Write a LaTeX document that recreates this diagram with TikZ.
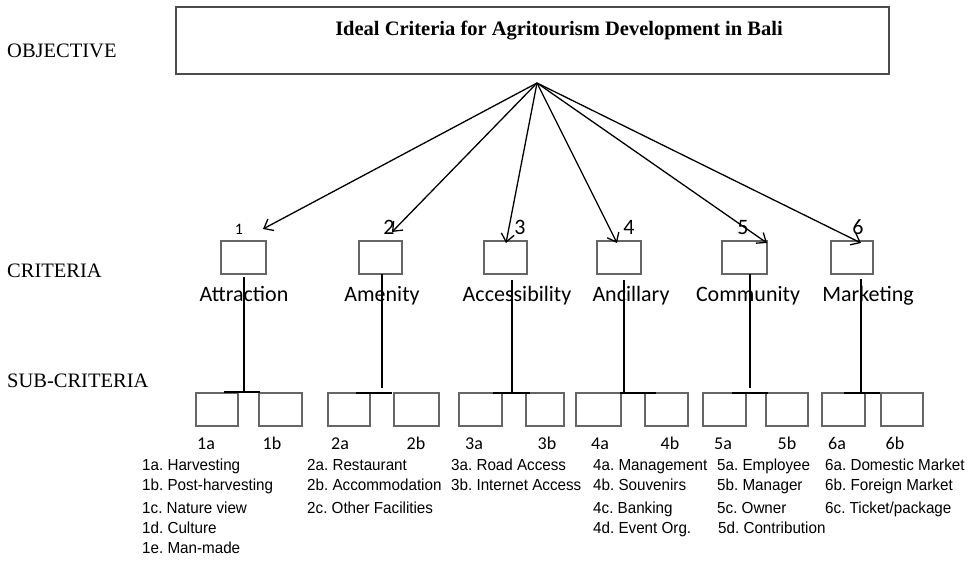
\documentclass[tikz,border=0pt]{standalone}
\usepackage{fontspec}
\setmainfont{Liberation Serif}
\newfontfamily\calfont{Carlito}
\newfontfamily\arifont[FakeStretch=0.95]{Liberation Sans}
\usetikzlibrary{arrows.meta}
\frenchspacing
\begin{document}
\begin{tikzpicture}[x=1pt,y=-1pt,
  lvl/.style={inner sep=0pt,anchor=base west,font=\fontsize{20.5}{24}\selectfont},
  ttl/.style={inner sep=0pt,anchor=base,font=\fontsize{20.5}{24}\selectfont\bfseries},
  cbox/.style={draw=black!60,line width=1.4pt,minimum width=44pt,minimum height=33pt,inner sep=0pt},
  sbox/.style={draw=black!60,line width=1.4pt,minimum width=43pt,minimum height=33pt,inner sep=0pt},
  cnum/.style={inner sep=0pt,anchor=base,font=\calfont\fontsize{22}{26}\selectfont},
  cnums/.style={inner sep=0pt,anchor=base,font=\calfont\fontsize{16}{20}\selectfont},
  cname/.style={inner sep=0pt,anchor=base,font=\calfont\fontsize{22}{26}\selectfont},
  slab/.style={inner sep=0pt,anchor=base,font=\calfont\fontsize{18}{22}\selectfont},
  lst/.style={inner sep=0pt,anchor=base west,font=\arifont\fontsize{16}{20}\selectfont},
  arr/.style={line width=1.3pt,-{Straight Barb[length=8pt,width=13pt,line width=1.3pt]}},
  ln/.style={line width=1.2pt},
  bar/.style={line width=1.6pt}]
\useasboundingbox (0,0) rectangle (972,561);
% objective
\node[draw=black!70,line width=1.4pt,minimum width=713pt,minimum height=67pt,inner sep=0pt] (obj) at (532.5,40.5) {};
\node[ttl] (title) at (559,36) {Ideal Criteria for Agritourism Development in Bali};
\node[lvl] (lobj) at (7,58) {OBJECTIVE};
\node[lvl] (lcri) at (7,278) {CRITERIA};
\node[lvl] (lsub) at (7,387) {SUB-CRITERIA};
\coordinate (apex) at (537,83);
% criteria boxes
\node[cbox,minimum width=45pt] (c1) at (243.5,257.5) {};
\node[cbox,minimum width=43pt] (c2) at (380.5,257.5) {};
\node[cbox,minimum width=43pt] (c3) at (505.5,257.5) {};
\node[cbox,minimum width=44pt] (c4) at (619,257.5) {};
\node[cbox,minimum width=45pt] (c5) at (744.5,257.5) {};
\node[cbox,minimum width=42pt] (c6) at (852,257.5) {};
% numbers
\node[cnums] (n1) at (239,235) {1};
\node[cnum] (n2) at (389,235) {2};
\node[cnum] (n3) at (520,235) {3};
\node[cnum] (n4) at (629,235) {4};
\node[cnum] (n5) at (743,235) {5};
\node[cnum] (n6) at (858,235) {6};
% names
\node[cname] (m1) at (244,302) {Attraction};
\node[cname] (m2) at (382,302) {Amenity};
\node[cname] (m3) at (517,302) {Accessibility};
\node[cname] (m4) at (631,302) {Ancillary};
\node[cname] (m5) at (748,302) {Community};
\node[cname] (m6) at (868,302) {Marketing};
% arrow tips
\coordinate (t1) at (263,229);
\coordinate (t2) at (392,232);
\coordinate (t3) at (506,243);
\coordinate (t4) at (617,243);
\coordinate (t5) at (767,243);
\coordinate (t6) at (861,243);
\foreach \i in {1,...,6} \draw[arr] (apex) -- (t\i);
% sub boxes
\node[sbox,minimum width=42pt] (s1a) at (217,409.5) {};
\node[sbox,minimum width=43pt] (s1b) at (280.5,409.5) {};
\node[sbox,minimum width=42pt] (s2a) at (349,409.5) {};
\node[sbox,minimum width=45pt] (s2b) at (416.5,409.5) {};
\node[sbox,minimum width=43pt] (s3a) at (480.5,409.5) {};
\node[sbox,minimum width=38pt] (s3b) at (545,409.5) {};
\node[sbox,minimum width=45pt] (s4a) at (598.5,409.5) {};
\node[sbox,minimum width=43pt] (s4b) at (666.5,409.5) {};
\node[sbox,minimum width=43pt] (s5a) at (724.5,409.5) {};
\node[sbox,minimum width=42pt] (s5b) at (787,409.5) {};
\node[sbox,minimum width=43pt] (s6a) at (843.5,409.5) {};
\node[sbox,minimum width=42pt] (s6b) at (902,409.5) {};
% trunks and bars
\coordinate (v1t) at (244,277);  \coordinate (v1b) at (244,392);
\coordinate (v2t) at (382,274);  \coordinate (v2b) at (382,388);
\coordinate (v3t) at (512,280);  \coordinate (v3b) at (512,393);
\coordinate (v4t) at (624,280);  \coordinate (v4b) at (624,393);
\coordinate (v5t) at (750,274);  \coordinate (v5b) at (750,388);
\coordinate (v6t) at (861,279);  \coordinate (v6b) at (861,393);
\foreach \i in {1,...,6} \draw[ln] (v\i t) -- (v\i b);
\coordinate (b1l) at (224,392); \coordinate (b1r) at (260,392);
\coordinate (b2l) at (356,393); \coordinate (b2r) at (392,393);
\coordinate (b3l) at (493,393); \coordinate (b3r) at (530,393);
\coordinate (b4l) at (620,393); \coordinate (b4r) at (656,393);
\coordinate (b5l) at (732,393); \coordinate (b5r) at (768,393);
\coordinate (b6l) at (844,393); \coordinate (b6r) at (880,393);
\foreach \i in {1,...,6} \draw[bar] (b\i l) -- (b\i r);
% sub labels
\node[slab] (k1a) at (206,449) {1a};
\node[slab] (k1b) at (272,449) {1b};
\node[slab] (k2a) at (340,449) {2a};
\node[slab] (k2b) at (416,449) {2b};
\node[slab] (k3a) at (474,449) {3a};
\node[slab] (k3b) at (547,449) {3b};
\node[slab] (k4a) at (600,449) {4a};
\node[slab] (k4b) at (670,449) {4b};
\node[slab] (k5a) at (723,449) {5a};
\node[slab] (k5b) at (787,449) {5b};
\node[slab] (k6a) at (837,449) {6a};
\node[slab] (k6b) at (895,449) {6b};
% lists
\node[lst] (l1a) at (142,470.7) {1a. Harvesting};
\node[lst] (l1b) at (142,490.7) {1b. Post-harvesting};
\node[lst] (l1c) at (142,513.5) {1c. Nature view};
\node[lst] (l1d) at (142,533.5) {1d. Culture};
\node[lst] (l1e) at (142,553.5) {1e. Man-made};
\node[lst] (l2a) at (307,470.7) {2a. Restaurant};
\node[lst] (l2b) at (307,490.7) {2b. Accommodation};
\node[lst] (l2c) at (307,513.5) {2c. Other Facilities};
\node[lst] (l3a) at (451,470.7) {3a. Road Access};
\node[lst] (l3b) at (451,490.7) {3b. Internet Access};
\node[lst] (l4a) at (593,470.7) {4a. Management};
\node[lst] (l4b) at (593,490.7) {4b. Souvenirs};
\node[lst] (l4c) at (593,513.5) {4c. Banking};
\node[lst] (l4d) at (593,533.5) {4d. Event Org.};
\node[lst] (l5a) at (717,470.7) {5a. Employee};
\node[lst] (l5b) at (717,490.7) {5b. Manager};
\node[lst] (l5c) at (717,513.5) {5c. Owner};
\node[lst] (l5d) at (718,533.5) {5d. Contribution};
\node[lst] (l6a) at (825,470.7) {6a. Domestic Market};
\node[lst] (l6b) at (825,490.7) {6b. Foreign Market};
\node[lst] (l6c) at (825,513.5) {6c. Ticket/package};
\end{tikzpicture}
\end{document}
